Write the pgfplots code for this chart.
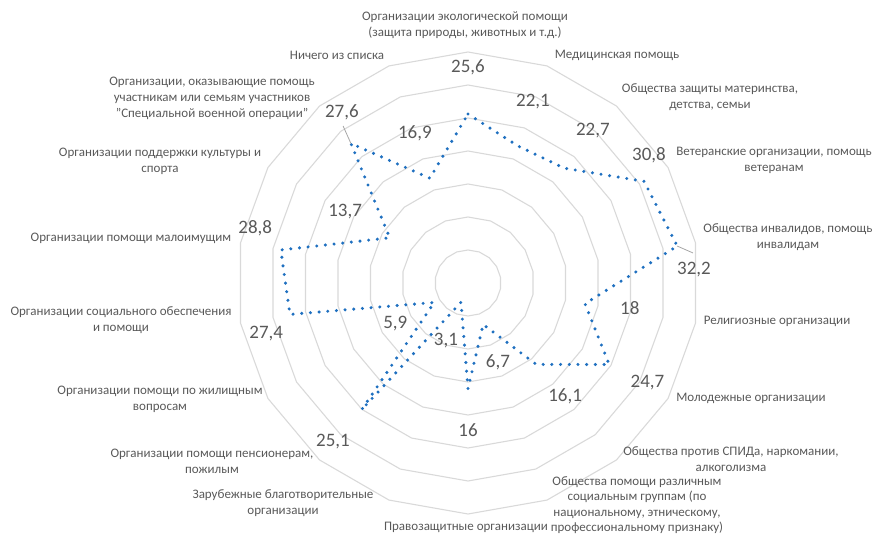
\documentclass[border=0pt]{standalone}
\usepackage{pgfplots}
\pgfplotsset{compat=1.18}
\usepackage{fontspec}
\setmainfont{Carlito}
\definecolor{txt}{HTML}{595959}
\definecolor{ringc}{HTML}{D9D9D9}
\definecolor{ser}{RGB}{31,112,192}
\newcommand{\cat}[3]{\node[lbl] at (#1bp,534bp-#2bp) {#3};}
\begin{document}
\begin{tikzpicture}[lbl/.style={align=center, text=txt, font=\fontsize{13bp}{16bp}\selectfont, inner sep=0pt}]
\path[use as bounding box] (0,0) rectangle (877bp,534bp);
\begin{axis}[at={(468bp,251bp)}, anchor=origin, x=6.6bp, y=6.6bp, hide axis,
  xmin=-36, xmax=36, ymin=-36, ymax=36, clip=false]
\pgfplotsinvokeforeach{5,10,15,20,25,30,35}{
  \addplot[ringc, line width=1.1bp, data cs=polar, domain=90:450, samples=19, mark=none] {#1};
}
% data series (angle in degrees counter-clockwise from x-axis, value)
\addplot[ser, line width=3.4bp, line cap=round, dash pattern=on 0pt off 8.7bp, data cs=polar, mark=none] coordinates {
 (90,25.6) (70,22.1) (50,22.7) (30,30.8) (10,32.2) (-10,18) (-30,24.7) (-50,16.1) (-70,6.7)
 (-90,16) (-110,3.1) (-130,25.1) (-150,5.9) (-170,27.4) (170,28.8) (150,13.7) (130,27.6) (110,16.9) (90,25.6)
};
% leader lines
\addplot[gray!70, line width=0.8bp, data cs=polar, mark=none] coordinates {(130,27.6) (128.5,30.4)};
\addplot[gray!70, line width=0.8bp, data cs=polar, mark=none] coordinates {(10,32.2) (7.6,34.4)};
% data labels
\addplot[draw=none, mark=none, data cs=polar, nodes near coords, point meta=explicit symbolic,
  nodes near coords style={anchor=center, inner sep=0pt, text=txt, font=\fontsize{19bp}{19bp}\selectfont}] coordinates {
 (90,32.7) [25,6]
 (70.3,29.2) [22,1]
 (50.6,29.8) [22,7]
 (35.3,33.6) [30,8]
 (3.3,34.3) [32,2]
 (-8.8,24.8) [18]
 (-29,31.1) [24,7]
 (-49.4,22.6) [16,1]
 (-69.4,12.9) [6,7]
 (-90,22.3) [16]
 (-110.8,9.4) [3,1]
 (-130.5,31.5) [25,1]
 (-151,12.6) [5,9]
 (-166,31.5) [27,4]
 (165.5,33.3) [28,8]
 (150,21.5) [13,7]
 (126.4,32.2) [27,6]
 (109.5,24.1) [16,9]
};
\end{axis}
\cat{465}{25}{Организации экологической помощи\\(защита природы, животных и т.д.)}
\cat{617}{55}{Медицинская помощь}
\cat{710}{97}{Общества защиты материнства,\\детства, семьи}
\cat{774}{160}{Ветеранские организации, помощь\\ветеранам}
\cat{788}{237}{Общества инвалидов, помощь\\инвалидам}
\cat{777}{321}{Религиозные организации}
\cat{751}{398}{Молодежные организации}
\cat{731}{459}{Общества против СПИДа, наркомании,\\алкоголизма}
\node[lbl, font=\fontsize{13bp}{15.3bp}\selectfont] at (637bp,534bp-505bp) {Общества помощи различным\\социальным группам (по\\национальному, этническому,\\профессиональному признаку)};
\cat{466}{527}{Правозащитные организации}
\cat{283}{503}{Зарубежные благотворительные\\организации}
\cat{212}{461}{Организации помощи пенсионерам,\\пожилым}
\cat{160}{399}{Организации помощи по жилищным\\вопросам}
\cat{121}{320}{Организации социального обеспечения\\и помощи}
\cat{131}{238}{Организации помощи малоимущим}
\cat{160}{161}{Организации поддержки культуры и\\спорта}
\cat{212}{98}{Организации, оказывающие помощь\\участникам или семьям участников\\"Специальной военной операции"}
\cat{337}{55}{Ничего из списка}
\end{tikzpicture}
\end{document}
